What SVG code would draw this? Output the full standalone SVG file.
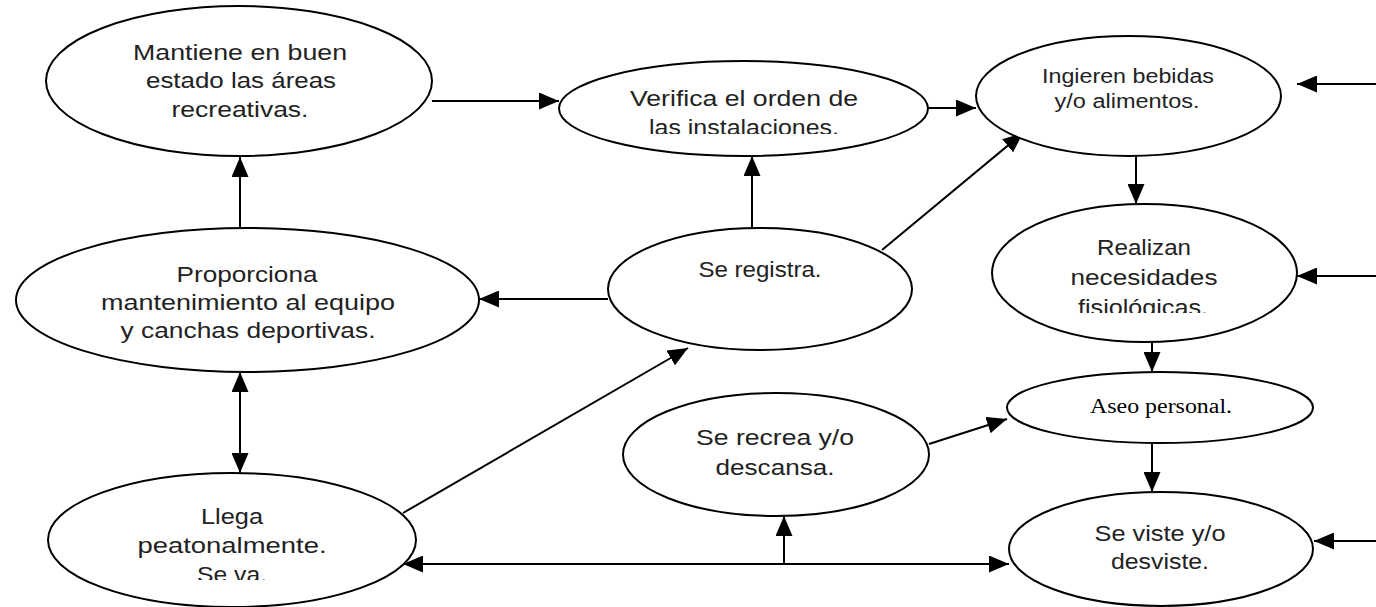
<svg xmlns="http://www.w3.org/2000/svg" width="1376" height="607" viewBox="0 0 1376 607">
<style>
.n ellipse{fill:#fff;stroke:#000;stroke-width:2}
.g{font-family:"Liberation Sans",Arial,sans-serif;font-size:22px;fill:#222;text-anchor:middle}
.s{font-size:20px}
.c{font-family:"Liberation Sans Narrow","Liberation Sans",sans-serif;font-size:22px;fill:#222;text-anchor:middle}
.t{font-family:"Liberation Serif","Times New Roman",serif;font-size:20px;fill:#000;text-anchor:middle}
#connectors line{stroke:#000;stroke-width:2;fill:none}
</style>
<defs>
<marker id="ah" viewBox="0 0 20 17" refX="20" refY="8.5" markerWidth="20" markerHeight="17" markerUnits="userSpaceOnUse" orient="auto-start-reverse"><path d="M0,0 L20,8.5 L0,17 z" fill="#000"/></marker>
<clipPath id="cv"><rect x="560" y="60" width="370" height="74"/></clipPath>
<clipPath id="cl"><rect x="40" y="470" width="380" height="110"/></clipPath>
<clipPath id="cr"><rect x="990" y="200" width="310" height="113"/></clipPath>
</defs>
<rect width="1376" height="607" fill="#fff"/>
<g id="connectors">
<line x1="432" y1="101" x2="559" y2="101" marker-end="url(#ah)"/>
<line x1="928" y1="108" x2="976" y2="108" marker-end="url(#ah)"/>
<line x1="240" y1="228" x2="240" y2="157" marker-end="url(#ah)"/>
<line x1="752" y1="228" x2="752" y2="156" marker-end="url(#ah)"/>
<line x1="608" y1="299" x2="479" y2="299" marker-end="url(#ah)"/>
<line x1="882" y1="250" x2="1023" y2="133" marker-end="url(#ah)"/>
<line x1="1136" y1="156" x2="1136" y2="204" marker-end="url(#ah)"/>
<line x1="1152" y1="342" x2="1152" y2="372" marker-end="url(#ah)"/>
<line x1="1152" y1="443" x2="1152" y2="492" marker-end="url(#ah)"/>
<line x1="929" y1="444" x2="1007" y2="419" marker-end="url(#ah)"/>
<line x1="240" y1="372" x2="240" y2="473" marker-start="url(#ah)" marker-end="url(#ah)"/>
<line x1="403" y1="513" x2="688" y2="348" marker-end="url(#ah)"/>
<line x1="403" y1="564" x2="1009" y2="564" marker-start="url(#ah)" marker-end="url(#ah)"/>
<line x1="784" y1="564" x2="784" y2="516" marker-end="url(#ah)"/>
<line x1="1376" y1="84" x2="1297" y2="84" marker-end="url(#ah)"/>
<line x1="1376" y1="276" x2="1297" y2="276" marker-end="url(#ah)"/>
<line x1="1376" y1="541" x2="1314" y2="541" marker-end="url(#ah)"/>
</g>
<g id="n-mantiene" class="n">
<ellipse cx="239" cy="81" rx="193" ry="75"/>
<text class="g" x="240" y="60" textLength="214" lengthAdjust="spacingAndGlyphs">Mantiene en buen</text>
<text class="g" x="241" y="88" textLength="190" lengthAdjust="spacingAndGlyphs">estado las áreas</text>
<text class="g" x="240" y="117" textLength="137" lengthAdjust="spacingAndGlyphs">recreativas.</text>
</g>
<g id="n-verifica" class="n">
<ellipse cx="743.5" cy="108.5" rx="184.5" ry="47.5"/>
<text class="g" x="744" y="106" textLength="228" lengthAdjust="spacingAndGlyphs">Verifica el orden de</text>
<text class="g" x="744" y="135" textLength="190" lengthAdjust="spacingAndGlyphs" clip-path="url(#cv)">las instalaciones.</text>
</g>
<g id="n-ingieren" class="n">
<ellipse cx="1128.5" cy="96" rx="152.5" ry="60"/>
<text class="g s" x="1128" y="83" textLength="172" lengthAdjust="spacingAndGlyphs">Ingieren bebidas</text>
<text class="g s" x="1127" y="108" textLength="145" lengthAdjust="spacingAndGlyphs">y/o alimentos.</text>
</g>
<g id="n-proporciona" class="n">
<ellipse cx="247.5" cy="300" rx="231.5" ry="72"/>
<text class="g" x="247" y="282" textLength="141" lengthAdjust="spacingAndGlyphs">Proporciona</text>
<text class="g" x="248" y="310" textLength="294" lengthAdjust="spacingAndGlyphs">mantenimiento al equipo</text>
<text class="g" x="248" y="338" textLength="255" lengthAdjust="spacingAndGlyphs">y canchas deportivas.</text>
</g>
<g id="n-registra" class="n">
<ellipse cx="760" cy="289" rx="152" ry="61"/>
<text class="g" x="760" y="277" textLength="123" lengthAdjust="spacingAndGlyphs">Se registra.</text>
</g>
<g id="n-realizan" class="n">
<ellipse cx="1144.5" cy="273" rx="152.5" ry="69"/>
<text class="g" x="1144" y="255" textLength="94" lengthAdjust="spacingAndGlyphs">Realizan</text>
<text class="g" x="1144" y="285" textLength="147" lengthAdjust="spacingAndGlyphs">necesidades</text>
<text class="g" x="1143" y="315" textLength="130" lengthAdjust="spacingAndGlyphs" clip-path="url(#cr)">fisiológicas.</text>
</g>
<g id="n-aseo" class="n">
<ellipse cx="1160" cy="407.5" rx="153" ry="35.5"/>
<text class="t" x="1161" y="413" textLength="142" lengthAdjust="spacingAndGlyphs">Aseo personal.</text>
</g>
<g id="n-recrea" class="n">
<ellipse cx="776" cy="454.5" rx="153" ry="61.5"/>
<text class="c" x="775" y="445" textLength="158" lengthAdjust="spacingAndGlyphs">Se recrea y/o</text>
<text class="c" x="775" y="475" textLength="119" lengthAdjust="spacingAndGlyphs">descansa.</text>
</g>
<g id="n-llega" class="n">
<ellipse cx="232" cy="540" rx="184" ry="67"/>
<text class="g" x="232" y="524" textLength="62" lengthAdjust="spacingAndGlyphs">Llega</text>
<text class="g" x="232" y="553" textLength="189" lengthAdjust="spacingAndGlyphs">peatonalmente.</text>
<text class="g" x="232" y="582" textLength="70" lengthAdjust="spacingAndGlyphs" clip-path="url(#cl)">Se va.</text>
</g>
<g id="n-viste" class="n">
<ellipse cx="1161" cy="549" rx="152" ry="57"/>
<text class="c" x="1160" y="541" textLength="131" lengthAdjust="spacingAndGlyphs">Se viste y/o</text>
<text class="c" x="1160" y="569" textLength="98" lengthAdjust="spacingAndGlyphs">desviste.</text>
</g>
</svg>
